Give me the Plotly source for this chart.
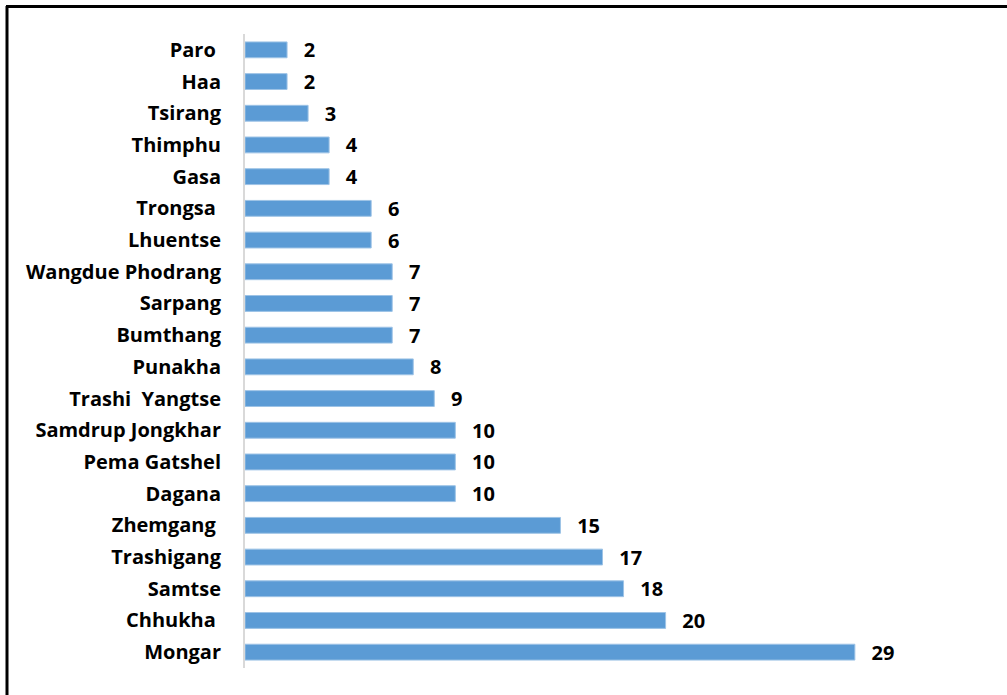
import plotly.graph_objects as go

districts = ["Paro\u00a0", "Haa", "Tsirang", "Thimphu", "Gasa", "Trongsa\u00a0", "Lhuentse",
             "Wangdue Phodrang", "Sarpang", "Bumthang", "Punakha", "Trashi\u00a0 Yangtse",
             "Samdrup Jongkhar", "Pema Gatshel", "Dagana", "Zhemgang\u00a0", "Trashigang",
             "Samtse", "Chhukha\u00a0", "Mongar"]
counts = [2, 2, 3, 4, 4, 6, 6, 7, 7, 7, 8, 9, 10, 10, 10, 15, 17, 18, 20, 29]

W, H = 1007, 695
ML, MR, MT, MB = 245, 26, 34, 27
PW, PH = W - ML - MR, H - MT - MB

FONT = "Open Sans"

fig = go.Figure(go.Bar(
    y=districts, x=counts, orientation="h",
    marker=dict(color="#5B9BD5", line=dict(color="#9DC3E6", width=1)),
    width=0.5,
    text=counts, texttemplate="\u00a0\u00a0\u2009%{x}", textposition="outside",
    constraintext="none",
    textfont=dict(family=FONT, size=20, color="black", weight="bold"),
    cliponaxis=False,
))

def px_x(p):
    return (p - ML) / PW

def px_y(p):
    return (H - MB - p) / PH

fig.update_layout(
    width=W, height=H,
    margin=dict(l=ML, r=MR, t=MT, b=MB),
    plot_bgcolor="white", paper_bgcolor="white",
    showlegend=False,
    xaxis=dict(range=[0, PW / 21.03], visible=False, showgrid=False, zeroline=False),
    yaxis=dict(autorange="reversed", showline=True, linecolor="#D9D9D9", linewidth=2,
               ticks="", ticklabelstandoff=18,
               tickfont=dict(family=FONT, size=20, color="black", weight="bold")),
    shapes=[
        dict(type="line", xref="paper", yref="paper", x0=px_x(7), x1=px_x(7),
             y0=px_y(6), y1=px_y(700), line=dict(color="black", width=3)),
        dict(type="line", xref="paper", yref="paper", x0=px_x(6), x1=px_x(1007),
             y0=px_y(6.5), y1=px_y(6.5), line=dict(color="black", width=3)),
    ],
)

fig.write_html("out.html", config={"displayModeBar": False},
               post_script="document.body.style.margin='0';document.body.style.overflow='hidden';")
